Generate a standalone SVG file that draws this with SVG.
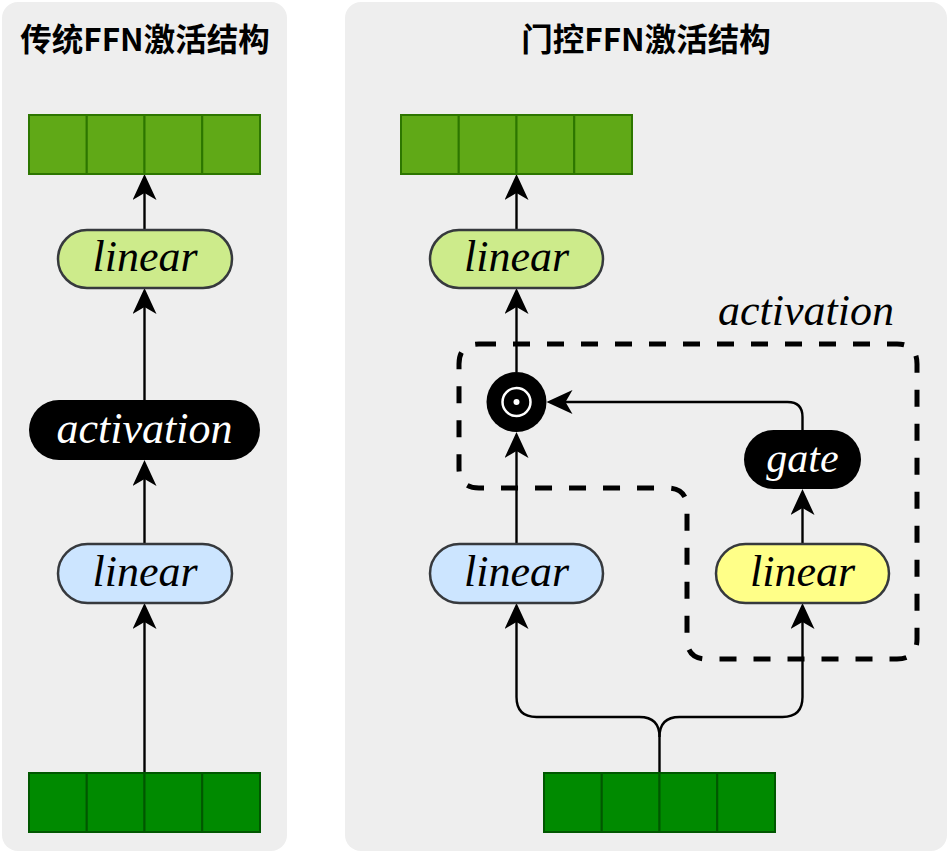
<svg xmlns="http://www.w3.org/2000/svg" width="952" height="852" viewBox="0 0 952 852">
<defs>
<style>
.panel{fill:#eeeeee;stroke:none}
.title{font-family:"Noto Sans CJK SC","Noto Sans",sans-serif;font-weight:bold;font-size:31.5px;fill:#000;text-anchor:middle}
.cellL{fill:#60a917;stroke:#2d7600;stroke-width:2}
.cellD{fill:#008a00;stroke:#005700;stroke-width:2}
.pill{stroke:#36393d;stroke-width:2.5}
.edge{fill:none;stroke:#000;stroke-width:2.4;marker-end:url(#arr)}
</style>
<marker id="arr" viewBox="0 0 26 24" refX="22" refY="12" markerWidth="26" markerHeight="24" markerUnits="userSpaceOnUse" orient="auto">
<path d="M26,12 L0,0 L7,12 L0,24 Z" fill="#000"/>
</marker>
</defs>

<g id="panel-left">
<rect class="panel" x="2" y="2" width="285" height="849" rx="16"/>
<text class="title" x="145" y="51">传统FFN激活结构</text>
</g>
<g id="panel-right">
<rect class="panel" x="345" y="2" width="602" height="849" rx="16"/>
<text class="title" x="646" y="51">门控FFN激活结构</text>
</g>

<g id="activation-region">
<path d="M479 344 H897 Q917 344 917 364 V639 Q917 659 897 659 H707 Q687 659 687 639 V508 Q687 488 667 488 H479 Q459 488 459 468 V364 Q459 344 479 344 Z" fill="none" stroke="#000" stroke-width="5" stroke-dasharray="17 17"/>
<text font-family="Liberation Serif" font-style="italic" font-size="44" text-anchor="middle" x="806" y="325">activation</text>
</g>

<g id="connectors">
<path class="edge" d="M144.5 773 V607"/>
<path class="edge" d="M144.5 544 V464"/>
<path class="edge" d="M144.5 400 V292"/>
<path class="edge" d="M144.5 230 V178"/>
<path class="edge" d="M516.5 230 V178"/>
<path class="edge" d="M516.5 372 V292"/>
<path class="edge" d="M516.5 544 V436"/>
<path class="edge" d="M802.5 544 V493"/>
<path class="edge" d="M802.5 430 V417 Q802.5 402 787.5 402 H550.5"/>
<path class="edge" d="M659.5 773 V737 Q659.5 717 639.5 717 H536.5 Q516.5 717 516.5 697 V607"/>
<path class="edge" d="M659.5 737 Q659.5 717 679.5 717 H782.5 Q802.5 717 802.5 697 V607"/>
</g>

<g id="left-output">
<rect class="cellL" x="29" y="115" width="57.75" height="59"/>
<rect class="cellL" x="86.75" y="115" width="57.75" height="59"/>
<rect class="cellL" x="144.5" y="115" width="57.75" height="59"/>
<rect class="cellL" x="202.25" y="115" width="57.75" height="59"/>
</g>
<g id="left-linear2">
<rect class="pill" x="58" y="230" width="174" height="58" rx="29" fill="#cdeb8b"/>
<text font-family="Liberation Serif" font-style="italic" font-size="44" text-anchor="middle" x="145" y="271">linear</text>
</g>
<g id="left-activation">
<rect x="29" y="400" width="231" height="60" rx="30" fill="#000"/>
<text font-family="Liberation Serif" font-style="italic" font-size="44" text-anchor="middle" x="144.5" y="443" fill="#fff">activation</text>
</g>
<g id="left-linear1">
<rect class="pill" x="58" y="544" width="174" height="59" rx="29.5" fill="#cce5ff"/>
<text font-family="Liberation Serif" font-style="italic" font-size="44" text-anchor="middle" x="145" y="586">linear</text>
</g>
<g id="left-input">
<rect class="cellD" x="29" y="773" width="57.75" height="59"/>
<rect class="cellD" x="86.75" y="773" width="57.75" height="59"/>
<rect class="cellD" x="144.5" y="773" width="57.75" height="59"/>
<rect class="cellD" x="202.25" y="773" width="57.75" height="59"/>
</g>

<g id="right-output">
<rect class="cellL" x="401" y="115" width="57.75" height="59"/>
<rect class="cellL" x="458.75" y="115" width="57.75" height="59"/>
<rect class="cellL" x="516.5" y="115" width="57.75" height="59"/>
<rect class="cellL" x="574.25" y="115" width="57.75" height="59"/>
</g>
<g id="right-linear-out">
<rect class="pill" x="430" y="230" width="173" height="58" rx="29" fill="#cdeb8b"/>
<text font-family="Liberation Serif" font-style="italic" font-size="44" text-anchor="middle" x="516.5" y="271">linear</text>
</g>
<g id="hadamard">
<circle cx="516.5" cy="402" r="30" fill="#000"/>
<circle cx="516.5" cy="402" r="14" fill="none" stroke="#fff" stroke-width="2.5"/>
<circle cx="516.5" cy="402" r="3" fill="#fff"/>
</g>
<g id="gate">
<rect x="744" y="430" width="117" height="59" rx="29.5" fill="#000"/>
<text font-family="Liberation Serif" font-style="italic" font-size="42" text-anchor="middle" x="802.5" y="472" fill="#fff">gate</text>
</g>
<g id="right-linear-up">
<rect class="pill" x="430" y="544" width="173" height="59" rx="29.5" fill="#cce5ff"/>
<text font-family="Liberation Serif" font-style="italic" font-size="44" text-anchor="middle" x="516.5" y="586">linear</text>
</g>
<g id="right-linear-gate">
<rect class="pill" x="716" y="544" width="173" height="59" rx="29.5" fill="#ffff88"/>
<text font-family="Liberation Serif" font-style="italic" font-size="44" text-anchor="middle" x="802.5" y="586">linear</text>
</g>
<g id="right-input">
<rect class="cellD" x="544" y="773" width="57.75" height="59"/>
<rect class="cellD" x="601.75" y="773" width="57.75" height="59"/>
<rect class="cellD" x="659.5" y="773" width="57.75" height="59"/>
<rect class="cellD" x="717.25" y="773" width="57.75" height="59"/>
</g>
</svg>
